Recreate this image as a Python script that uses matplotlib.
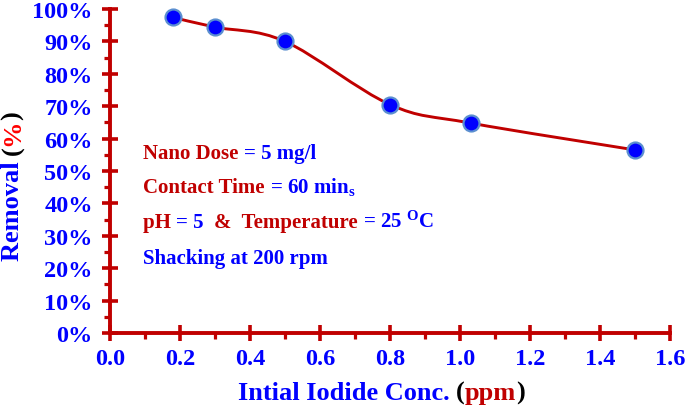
import numpy as np
import matplotlib
matplotlib.use("Agg")
import matplotlib.pyplot as plt
from matplotlib.path import Path
from matplotlib.patches import PathPatch
from matplotlib.ticker import MultipleLocator, PercentFormatter
import matplotlib.transforms as mtransforms

# data
conc = [0.18, 0.30, 0.50, 0.80, 1.03, 1.50]
removal = [97.4, 94.4, 90.0, 70.5, 64.8, 56.5]

RED = '#C00000'
BLUE = '#0000FF'
SERIF = 'Liberation Serif'

plt.rcParams['font.family'] = [SERIF, 'DejaVu Serif']
plt.rcParams['font.weight'] = 'bold'
plt.rcParams['mathtext.fontset'] = 'custom'
plt.rcParams['mathtext.rm'] = 'Liberation Serif:bold'
plt.rcParams['mathtext.bf'] = 'Liberation Serif:bold'
plt.rcParams['mathtext.default'] = 'regular'

fig = plt.figure(figsize=(6.85, 4.1), dpi=100)
ax = fig.add_axes([110 / 685, 76 / 410, 560 / 685, 324 / 410])


def smooth_path(xs, ys):
    # excel-like smoothed line: cubic bezier per segment
    pts = np.column_stack([xs, ys])
    n = len(pts)
    verts = [pts[0]]
    codes = [Path.MOVETO]
    for i in range(n - 1):
        p0 = pts[max(i - 1, 0)]
        p1 = pts[i]
        p2 = pts[i + 1]
        p3 = pts[min(i + 2, n - 1)]
        c1 = p1 + (p2 - p0) / 6.0
        c2 = p2 - (p3 - p1) / 6.0
        verts += [c1, c2, p2]
        codes += [Path.CURVE4] * 3
    return Path(verts, codes)


ax.add_patch(PathPatch(smooth_path(conc, removal), fill=False, edgecolor=RED,
                       lw=2.1, zorder=2))
ax.plot(conc, removal, ls='none', marker='o', ms=11.5, mfc=BLUE,
        mec='#5B8FD0', mew=1.6, zorder=3, clip_on=False)

ax.set_xlim(0, 1.6)
ax.set_ylim(0, 100)
for s in ['top', 'right']:
    ax.spines[s].set_visible(False)
for s in ['left', 'bottom']:
    ax.spines[s].set_color(RED)
    ax.spines[s].set_linewidth(2.8)

ax.xaxis.set_major_locator(MultipleLocator(0.2))
ax.xaxis.set_minor_locator(MultipleLocator(0.1))
ax.yaxis.set_major_locator(MultipleLocator(10))
ax.yaxis.set_minor_locator(MultipleLocator(5))
ax.yaxis.set_major_formatter(PercentFormatter(decimals=0))
ax.xaxis.set_major_formatter(plt.FuncFormatter(lambda v, p: f'{v:.1f}'))

ax.tick_params(which='major', direction='inout', length=11, width=2.6,
               color=RED, labelcolor=BLUE, labelsize=17.5)
ax.tick_params(which='minor', direction='out', length=4.5, width=2.3, color=RED)
ax.tick_params(axis='x', which='major', pad=5)
ax.tick_params(axis='y', which='major', pad=7)
for lab in ax.get_xticklabels() + ax.get_yticklabels():
    lab.set_fontweight('bold')

renderer = fig.canvas.get_renderer()
ident = mtransforms.IdentityTransform()
H = 410


def rich_text(x, y, pieces, size, rotation=0, anchor='left'):
    # pieces of coloured text on one baseline, x/y in pixels from top-left
    texts = []
    for s, c in pieces:
        t = fig.text(0, 0, s, color=c, fontsize=size, fontweight='bold',
                     family=SERIF, transform=ident, ha='left', va='baseline',
                     rotation=rotation, rotation_mode='anchor')
        texts.append(t)
    widths = []
    for t in texts:
        bb = t.get_window_extent(renderer)
        widths.append(bb.height if rotation == 90 else bb.width)
    total = sum(widths)
    pos = 0.0
    if anchor == 'center':
        pos = -total / 2
    for t, w in zip(texts, widths):
        if rotation == 90:
            t.set_position((x, H - y + pos))
        else:
            t.set_position((x + pos, H - y))
        pos += w


rich_text(143, 159, [('Nano Dose ', RED), ('= 5 mg/l', BLUE)], 15)
rich_text(143, 193, [('Contact Time ', RED), (r'= 60 min$_{\mathregular{s}}$', BLUE)], 15)
rich_text(143, 228, [('pH ', RED), ('= 5  ', BLUE), ('&  Temperature ', RED),
                     (r'= 25 $^{\mathregular{O}}$C', BLUE)], 15)
rich_text(143, 264, [('Shacking at 200 rpm', BLUE)], 15)

rich_text(381, 400, [('Intial Iodide Conc. ', BLUE), ('(', 'black'), ('ppm', RED),
                     (')', 'black')], 19, anchor='center')
rich_text(19, 186, [('Removal ', BLUE), ('(', 'black'), ('%', 'red'), (')', 'black')],
          19, rotation=90, anchor='center')

fig.savefig('out.png', dpi=100)
